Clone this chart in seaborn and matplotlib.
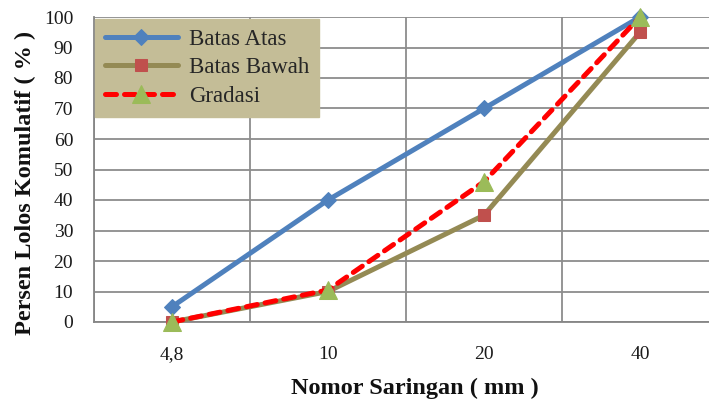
import matplotlib
matplotlib.use("Agg")
import matplotlib.pyplot as plt
import seaborn as sns
import pandas as pd
from matplotlib.ticker import FixedLocator, NullFormatter

categories = ["4,8", "10", "20", "40"]
batas_atas = [5, 40, 70, 100]
batas_bawah = [0, 10, 35, 95]
gradasi = [0, 10.5, 46, 100]
yticks = [0, 10, 20, 30, 40, 50, 60, 70, 80, 90, 100]

sns.set_theme(style="white")
plt.rcParams['font.family'] = ['Liberation Serif', 'DejaVu Serif']

W, H = 709, 405
fig = plt.figure(figsize=(W / 100, H / 100), dpi=100)
ax = fig.add_axes([94 / W, (H - 322) / H, 624 / W, 305 / H])

pos = list(range(len(categories)))
df = pd.DataFrame({"x": pos * 3,
                   "y": batas_atas + batas_bawah + gradasi,
                   "s": ["Batas Atas"] * 4 + ["Batas Bawah"] * 4 + ["Gradasi"] * 4})

d1 = df[df.s == "Batas Atas"]
d2 = df[df.s == "Batas Bawah"]
d3 = df[df.s == "Gradasi"]

sns.lineplot(data=d1, x="x", y="y", ax=ax, color="#4F81BD", lw=3.6, marker="D",
             markersize=8, markerfacecolor="#4F81BD", markeredgecolor="#4F81BD",
             label="Batas Atas", clip_on=False, zorder=3)
sns.lineplot(data=d2, x="x", y="y", ax=ax, color="#948A54", lw=3.6, marker="s",
             markersize=9, markerfacecolor="#C0504D", markeredgecolor="#C0504D",
             label="Batas Bawah", clip_on=False, zorder=4)
sns.lineplot(data=d3, x="x", y="y", ax=ax, color="#FF0000", lw=3.6, marker="^",
             markersize=13, markerfacecolor="#9BBB59", markeredgecolor="#9BBB59",
             label="Gradasi", clip_on=False, zorder=5, linestyle=(0, (2.2, 1.6)),
             dash_capstyle="round")

ax.set_xlim(-0.5, 3.5)
ax.set_ylim(0, 100)
ax.set_yticks(yticks)
ax.set_yticklabels([str(v) for v in yticks], fontsize=14, color="#1a1a1a")
ax.set_xticks(pos)
ax.set_xticklabels(categories, fontsize=14, color="#1a1a1a")
ax.xaxis.set_minor_locator(FixedLocator([-0.5, 0.5, 1.5, 2.5, 3.5]))
ax.xaxis.set_minor_formatter(NullFormatter())
ax.tick_params(axis="x", which="major", length=0, pad=17)
ax.tick_params(axis="x", which="minor", length=7, width=1.3, color="#868686", direction="out")
ax.tick_params(axis="y", which="major", length=5, width=1.3, color="#868686", direction="out", pad=10)
ax.set_axisbelow(True)
ax.grid(True, which="major", axis="y", color="#8c8c8c", lw=1.3)
ax.grid(True, which="minor", axis="x", color="#8c8c8c", lw=1.3)
for side in ["top", "right"]:
    ax.spines[side].set_visible(False)
for side in ["left", "bottom"]:
    ax.spines[side].set_color("#868686")
    ax.spines[side].set_linewidth(1.3)
ax.set_xlabel("")
ax.set_ylabel("")

fig.text(25 / W, 1 - 183 / H, "Persen Lolos Komulatif ( % )", rotation=90,
         ha="center", va="center", fontsize=17.5, fontweight="bold", color="#111111")
fig.text(415 / W, 1 - 388 / H, "Nomor Saringan ( mm )", ha="center", va="center",
         fontsize=17.5, fontweight="bold", color="#111111")

leg = ax.legend(loc="upper left", bbox_to_anchor=(95 / W, 1 - 19 / H),
                bbox_transform=fig.transFigure, fontsize=16.5, handlelength=3.2,
                frameon=True, fancybox=False, borderaxespad=0, borderpad=0.42,
                labelspacing=0.33, handletextpad=0.5)
leg.get_frame().set_facecolor("#C4BD97")
leg.get_frame().set_edgecolor("#C4BD97")
leg.get_frame().set_alpha(1)

fig.savefig("out.png", dpi=100)
